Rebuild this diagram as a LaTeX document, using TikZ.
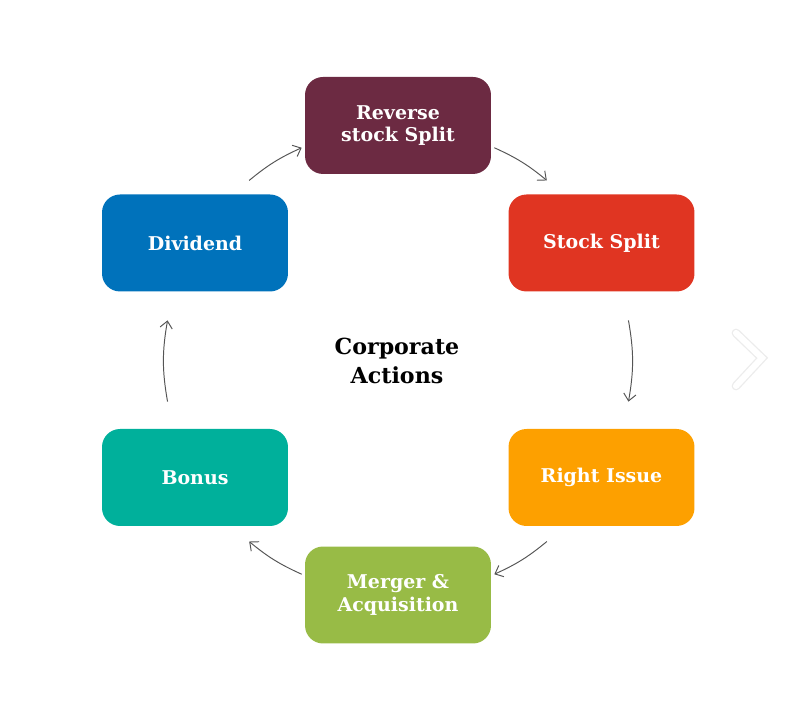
\documentclass[tikz,border=0pt]{standalone}
\usepackage{fontspec}
\setmainfont{DejaVu Serif}
\usetikzlibrary{arrows.meta}

\definecolor{revcol}{RGB}{108,42,66}
\definecolor{divcol}{RGB}{0,114,187}
\definecolor{splitcol}{RGB}{224,53,34}
\definecolor{boncol}{RGB}{0,176,155}
\definecolor{rightcol}{RGB}{253,160,0}
\definecolor{mergcol}{RGB}{152,187,70}
\definecolor{arrcol}{RGB}{85,85,85}

\begin{document}
\begin{tikzpicture}[x=0.02cm,y=0.02cm,
    action/.style={rounded corners=0.36cm,minimum width=3.72cm,minimum height=1.94cm,
      align=center,text=white,font=\bfseries\fontsize{10.8}{13}\selectfont},
    flow/.style={draw=arrcol,line width=0.55pt,-{Straight Barb[length=4pt,width=7pt]}}]
  \useasboundingbox (0,0) rectangle (798,712);

  \node[action,fill=revcol] at (398,586.5) (rs) {Reverse\\stock Split};
  \node[action,fill=splitcol] at (601.5,469) (ss) {Stock Split};
  \node[action,fill=rightcol] at (601.5,234.5) (ri) {Right Issue};
  \node[action,fill=mergcol] at (398,117) (ma) {Merger \&\\Acquisition};
  \node[action,fill=boncol] at (195,234.5) (bo) {Bonus};
  \node[action,fill=divcol] at (195,469) (dv) {Dividend};

  \node[align=center,font=\bfseries\fontsize{12.6}{16.4}\selectfont] at (397,351) (ca) {Corporate\\Actions};

  % arrow ends on the ring round the centre
  \path (398,351) ++(129.5:234) coordinate (d1);
  \path (398,351) ++(114.3:234) coordinate (d2);
  \path (398,351) ++(65.7:234) coordinate (r1);
  \path (398,351) ++(50.5:234) coordinate (r2);
  \path (398,351) ++(10:234) coordinate (s1);
  \path (398,351) ++(-10:234) coordinate (s2);
  \path (398,351) ++(-50.5:234) coordinate (i1);
  \path (398,351) ++(-65.7:234) coordinate (i2);
  \path (398,351) ++(-114.3:234) coordinate (m1);
  \path (398,351) ++(-129.5:234) coordinate (m2);
  \path (398,351) ++(190:234) coordinate (b1);
  \path (398,351) ++(170:234) coordinate (b2);

  \draw[flow] (d1) to[bend left=7.6] (d2);
  \draw[flow] (r1) to[bend left=7.6] (r2);
  \draw[flow] (s1) to[bend left=10] (s2);
  \draw[flow] (i1) to[bend left=7.6] (i2);
  \draw[flow] (m1) to[bend left=7.6] (m2);
  \draw[flow] (b1) to[bend left=10] (b2);

  % pager chevron
  \coordinate (c1) at (736,379);
  \coordinate (c2) at (762,354);
  \coordinate (c3) at (736,326);
  \draw[gray!15,line width=5pt,line cap=round,line join=miter] (c1) -- (c2) -- (c3);
  \draw[white,line width=3.5pt,line cap=round,line join=miter] (c1) -- (c2) -- (c3);
\end{tikzpicture}
\end{document}
